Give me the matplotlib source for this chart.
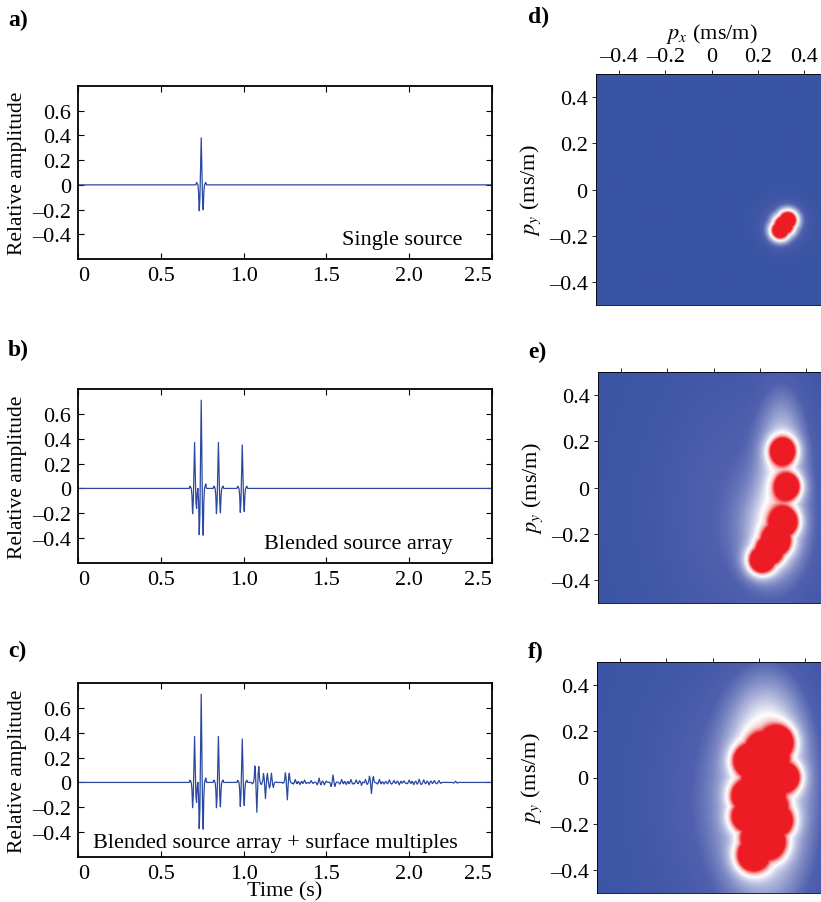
import numpy as np
import matplotlib
matplotlib.use("Agg")
import matplotlib.pyplot as plt
from matplotlib.colors import LinearSegmentedColormap

plt.rcParams['font.family'] = ['Liberation Serif', 'DejaVu Serif']
plt.rcParams['mathtext.fontset'] = 'stix'
plt.rcParams['font.size'] = 16

# ---- trace data ----
dt = 0.004
# wavelet samples, offsets -8..8 around the peak, peak normalised to 1
wavelet = [0.0, 0.05, 0.03, 0.0, -0.15, -0.55, -0.3, 0.3, 1.0, 0.3, -0.3, -0.53, -0.15, 0.0, 0.03, 0.05, 0.0]

single_t = [0.743]
single_a = [0.38]

blend_t = [0.703, 0.743, 0.848, 0.990]
blend_a = [0.37, 0.71, 0.37, 0.35]

mult_t = [1.082, 1.134, 1.168, 1.262, 1.31, 1.34, 1.37, 1.41, 1.456, 1.49, 1.54, 1.59,
          1.62, 1.65, 1.68, 1.71, 1.735, 1.772, 1.82, 1.85, 1.88, 1.91, 1.94, 1.97,
          2.00, 2.03, 2.06, 2.09, 2.12, 2.15, 2.18, 2.28]
mult_a = [-0.24, -0.13, 0.075, -0.14, 0.025, -0.02, 0.02, 0.015, 0.035, -0.02, 0.06, 0.025,
          -0.02, 0.025, 0.02, -0.025, 0.025, -0.09, 0.025, -0.015, 0.02, 0.015, -0.02, 0.015,
          0.02, -0.02, 0.025, 0.02, -0.02, 0.015, 0.015, 0.01]

trace_titles = ['Single source', 'Blended source array',
                'Blended source array + surface multiples']

# ---- slowness-map cores (centre px, centre py, width, amplitude) ----
d_px = [0.298, 0.315, 0.332]
d_py = [-0.178, -0.155, -0.132]
d_w = [0.034, 0.036, 0.034]
d_amp = [0.95, 1.0, 0.95]

e_px = [0.301, 0.325, 0.31, 0.272, 0.24, 0.208]
e_py = [0.16, 0.005, -0.15, -0.235, -0.28, -0.318]
e_w = [0.04, 0.038, 0.04, 0.042, 0.042, 0.042]
e_amp = [0.85, 0.8, 0.85, 0.9, 0.9, 0.9]

f_px = [0.288, 0.15, 0.23, 0.325, 0.14, 0.262, 0.14, 0.195, 0.245, 0.175, 0.29, 0.21, 0.25, 0.19, 0.27]
f_py = [0.155, 0.075, 0.0, 0.0, -0.08, -0.135, -0.17, -0.27, -0.285, -0.34, -0.19, 0.12, -0.07, -0.02, 0.08]
f_w = [0.045, 0.045, 0.045, 0.042, 0.045, 0.045, 0.045, 0.05, 0.05, 0.05, 0.045, 0.045, 0.045, 0.045, 0.045]
f_amp = [0.8, 0.72, 0.72, 0.72, 0.72, 0.72, 0.72, 0.85, 0.85, 0.85, 0.72, 0.7, 0.62, 0.62, 0.62]

# broad halos (centre px, centre py, width x, width y, amplitude)
halo_d = ([0.315], [-0.155], [0.065], [0.065], [0.18])
halo_e = ([0.30, 0.26, 0.16], [0.12, -0.2, -0.1], [0.07, 0.09, 0.3], [0.2, 0.14, 0.45],
          [0.33, 0.33, 0.17])
halo_f = ([0.24, 0.23, 0.13], [0.15, -0.2, -0.08], [0.11, 0.13, 0.3], [0.2, 0.28, 0.45],
          [0.34, 0.34, 0.18])

line_col = '#2B49A0'
cmap = LinearSegmentedColormap.from_list(
    'bwr_map', [(0.0, '#3A54A4'), (0.15, '#5060AE'), (0.38, '#C0C5E3'), (0.5, '#FFFFFF'),
                (0.6, '#F8C8C8'), (0.75, '#ED1C24'), (1.0, '#ED1C24')])


def make_trace(times, amps, t):
    tr = np.zeros_like(t)
    half = len(wavelet) // 2
    for t0, a in zip(times, amps):
        i0 = int(round(t0 / dt))
        for k, w in enumerate(wavelet):
            j = i0 + k - half
            if 0 <= j < len(tr):
                tr[j] += a * w
    return tr


def make_map(px, py, w, amp, hal, p):
    X, Y = np.meshgrid(p, p)
    core = np.zeros_like(X)
    for cx, cy, s, a in zip(px, py, w, amp):
        core = np.maximum(core, a * np.exp(-((X - cx) ** 2 + (Y - cy) ** 2) / (2 * s ** 2)))
    bg = np.zeros_like(X)
    for cx, cy, sx, sy, a in zip(*hal):
        bg += a * np.exp(-((X - cx) ** 2 / (2 * sx ** 2) + (Y - cy) ** 2 / (2 * sy ** 2)))
    return core + bg


t = np.arange(0, 2.5 + dt / 2, dt)
traces = [make_trace(single_t, single_a, t),
          make_trace(blend_t, blend_a, t),
          make_trace(blend_t + mult_t, blend_a + mult_a, t)]

fig = plt.figure(figsize=(8.21, 9.03), dpi=100)

W, H = 821, 903
left_boxes = [(78, 87, 492, 260), (78, 390, 492, 564), (78, 684, 492, 858)]
text_pos = [(2.32, -0.44, 'right'), (2.26, -0.445, 'right'), (1.19, -0.48, 'center')]
for i, (x0, y0, x1, y1) in enumerate(left_boxes):
    ax = fig.add_axes([x0 / W, 1 - y1 / H, (x1 - x0) / W, (y1 - y0) / H])
    ax.plot(t, traces[i], color=line_col, lw=0.9)
    ax.set_xlim(0, 2.5)
    ax.set_ylim(-0.6, 0.8)
    ax.set_xticks([0, 0.5, 1.0, 1.5, 2.0, 2.5])
    ax.set_xticklabels(['0', '0.5', '1.0', '1.5', '2.0', '2.5'])
    lbls = ax.get_xticklabels()
    lbls[0].set_ha('left')
    lbls[-1].set_ha('right')
    ax.set_yticks([-0.4, -0.2, 0, 0.2, 0.4, 0.6])
    ax.set_yticklabels(['\u20130.4', '\u20130.2', '0', '0.2', '0.4', '0.6'])
    ax.tick_params(direction='in', top=True, right=True, length=4, width=0.8)
    ax.tick_params(axis='x', pad=5)
    ax.tick_params(axis='y', pad=5)
    for sp in ax.spines.values():
        sp.set_linewidth(1.3)
    ax.set_ylabel('Relative amplitude', labelpad=4, fontsize=15.5)
    tx, ty, ha = text_pos[i]
    ax.text(tx, ty, trace_titles[i], ha=ha, va='center', fontsize=16)
    if i == 2:
        ax.set_xlabel('Time (s)', labelpad=-1)

p = np.linspace(-0.5, 0.5, 301)
maps = [make_map(d_px, d_py, d_w, d_amp, halo_d, p),
        make_map(e_px, e_py, e_w, e_amp, halo_e, p),
        make_map(f_px, f_py, f_w, f_amp, halo_f, p)]
right_boxes = [(596, 75), (598, 373), (597, 663)]
for i, (x0, y0) in enumerate(right_boxes):
    ax = fig.add_axes([x0 / W, 1 - (y0 + 231) / H, 231 / W, 231 / H])
    ax.imshow(maps[i], extent=[-0.5, 0.5, -0.5, 0.5], origin='lower',
              cmap=cmap, vmin=0, vmax=1, interpolation='bilinear', aspect='auto')
    ax.set_xlim(-0.5, 0.5)
    ax.set_ylim(-0.5, 0.5)
    ax.set_xticks([-0.4, -0.2, 0, 0.2, 0.4])
    ax.set_yticks([-0.4, -0.2, 0, 0.2, 0.4])
    ax.set_yticklabels(['\u20130.4', '\u20130.2', '0', '0.2', '0.4'])
    ax.tick_params(direction='out', length=3, width=0.6, top=True, bottom=False,
                   labelbottom=False, labeltop=(i == 0), pad=3)
    if i == 0:
        ax.set_xticklabels(['\u20130.4', '\u20130.2', '0', '0.2', '0.4'])
        ax.xaxis.set_label_position('top')
        ax.set_xlabel('$p_x$ (ms/m)', labelpad=6)
    for sp in ax.spines.values():
        sp.set_linewidth(0.6)
    ax.set_ylabel('$p_y$ (ms/m)', labelpad=4)

for lab, x, y in [('a)', 8, 20), ('b)', 8, 350), ('c)', 8, 651),
                  ('d)', 528, 17), ('e)', 528, 352), ('f)', 528, 652)]:
    fig.text(x / W, 1 - y / H, lab, fontsize=17, fontweight='bold', va='center', ha='left')

fig.savefig('out.png', dpi=100)
